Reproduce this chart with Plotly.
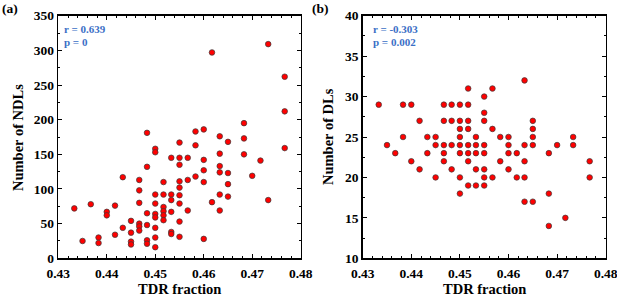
import plotly.graph_objects as go

W, H = 617, 298

# ---- data (x given as TDR fraction) ----
tdr_a = ([0.4333] + [0.4350] + [0.4367] + [0.4383]*2 + [0.4400]*2 + [0.4417]*2 + [0.4433]*2
         + [0.4450]*4 + [0.4467]*6 + [0.4483]*6 + [0.4500]*9 + [0.4517]*6 + [0.4533]*6
         + [0.4550]*9 + [0.4567]*3 + [0.4583]*3 + [0.4600]*5 + [0.4617]*2 + [0.4633]*6
         + [0.4650]*4 + [0.4683]*3 + [0.4700] + [0.4717] + [0.4733]*2 + [0.4767]*3)
ndl = [72,
       25,
       78,
       30, 22,
       67, 62,
       76, 34,
       117, 44,
       54, 37, 24, 20,
       113, 98, 80, 50, 46, 40,
       181, 132, 65, 48, 26, 21,
       158, 153, 92, 79, 64, 59, 44, 30, 16,
       110, 92, 74, 68, 62, 55,
       145, 92, 84, 67, 38, 35,
       167, 145, 135, 111, 102, 91, 79, 53, 31,
       145, 113, 69,
       183, 163, 118,
       186, 142, 127, 110, 28,
       297, 81,
       176, 151, 133, 124, 92, 69,
       168, 123, 107, 89,
       195, 173, 150,
       119,
       141,
       309, 84,
       262, 212, 159]

tdr_b = ([0.4633]
         + [0.4517, 0.4567]
         + [0.4550]
         + [0.4333, 0.4383, 0.4400, 0.4467, 0.4483, 0.4500, 0.4517]
         + [0.4550]
         + [0.4417, 0.4467, 0.4483, 0.4500, 0.4517, 0.4550, 0.4650]
         + [0.4500, 0.4517, 0.4567, 0.4650]
         + [0.4383, 0.4433, 0.4450, 0.4500, 0.4533, 0.4583, 0.4600, 0.4650, 0.4733]
         + [0.4350, 0.4450, 0.4467, 0.4483, 0.4500, 0.4517, 0.4533, 0.4550, 0.4600, 0.4633, 0.4650, 0.4700, 0.4733]
         + [0.4367, 0.4433, 0.4467, 0.4500, 0.4517, 0.4533, 0.4550, 0.4600, 0.4617, 0.4683]
         + [0.4400, 0.4467, 0.4517, 0.4583, 0.4633, 0.4767]
         + [0.4417, 0.4483, 0.4533, 0.4550, 0.4600]
         + [0.4450, 0.4500, 0.4550, 0.4567, 0.4617, 0.4633, 0.4767]
         + [0.4517, 0.4533, 0.4550]
         + [0.4500, 0.4683]
         + [0.4633, 0.4650]
         + [0.4717]
         + [0.4683])
dl = ([32] + [31]*2 + [30] + [29]*7 + [28] + [27]*7 + [26]*4 + [25]*9 + [24]*13
      + [23]*10 + [22]*6 + [21]*5 + [20]*7 + [19]*3 + [18]*2 + [17]*2 + [15] + [14])

x_ticks = [0.43, 0.44, 0.45, 0.46, 0.47, 0.48]
x_tick_text = ["0.43", "0.44", "0.45", "0.46", "0.47", "0.48"]
ya_ticks = [0, 50, 100, 150, 200, 250, 300, 350]
ya_tick_text = [str(v) for v in ya_ticks]
yb_ticks = [10, 15, 20, 25, 30, 35, 40]
yb_tick_text = [str(v) for v in yb_ticks]

FONT = "Liberation Serif"
BLUE = "#3b6fc6"

def px(x):
    return x / W

def py(y):
    return 1 - y / H

fig = go.Figure()
marker = dict(size=5.6, color="#ff0000", line=dict(color="#3a3a3a", width=0.7))
fig.add_trace(go.Scatter(x=tdr_a, y=ndl, mode="markers", marker=marker,
                         xaxis="x", yaxis="y", showlegend=False, cliponaxis=False))
fig.add_trace(go.Scatter(x=tdr_b, y=dl, mode="markers", marker=marker,
                         xaxis="x2", yaxis="y2", showlegend=False, cliponaxis=False))

tickfont = dict(family=FONT, size=13.5, color="black", weight="bold")
common = dict(showgrid=False, zeroline=False, showline=True, linecolor="black",
              linewidth=1.6, mirror="allticks", ticks="inside", ticklen=4,
              tickwidth=1, tickcolor="black", tickfont=tickfont, automargin=False,
              ticklabeloverflow="allow")

ydom = [py(258.3), py(15.7)]
fig.update_layout(
    template="none",
    width=W, height=H,
    margin=dict(l=0, r=0, t=0, b=0, pad=0),
    paper_bgcolor="white", plot_bgcolor="white",
    hovermode=False,
    xaxis=dict(domain=[px(58.3), px(300.7)], range=[0.43, 0.48],
               tickmode="array", tickvals=x_ticks, ticktext=x_tick_text, ticklabelstandoff=2,
               minor=dict(dtick=0.002, tick0=0.43, ticks="inside", ticklen=2, tickcolor="black"),
               anchor="y", **common),
    yaxis=dict(domain=ydom, range=[0, 350],
               tickmode="array", tickvals=ya_ticks, ticktext=ya_tick_text,
               minor=dict(dtick=25, tick0=0, ticks="inside", ticklen=2, tickcolor="black"),
               anchor="x", **common),
    xaxis2=dict(domain=[px(362.7), px(605.7)], range=[0.43, 0.48],
                tickmode="array", tickvals=x_ticks, ticktext=x_tick_text, ticklabelstandoff=2,
                minor=dict(dtick=0.002, tick0=0.43, ticks="inside", ticklen=2, tickcolor="black"),
                anchor="y2", **common),
    yaxis2=dict(domain=ydom, range=[10, 40],
                tickmode="array", tickvals=yb_ticks, ticktext=yb_tick_text,
                minor=dict(dtick=2.5, tick0=10, ticks="inside", ticklen=2, tickcolor="black"),
                anchor="x2", **common),
)

def ann(text, x, y, size=14.5, color="black", bold=True, xanchor="center", angle=0):
    fig.add_annotation(text=text, xref="paper", yref="paper", x=px(x), y=py(y),
                       xanchor=xanchor, yanchor="middle", showarrow=False, textangle=angle,
                       font=dict(family=FONT, size=size, color=color,
                                 weight="bold" if bold else "normal"))

ann("(a)", 10.5, 8.5, size=13.5)
ann("(b)", 320.5, 8.5, size=13.5)
ann("TDR fraction", 180, 289)
ann("TDR fraction", 484, 289)
ann("Number of NDLs", 18, 138, angle=-90)
ann("Number of DLs", 328, 137, angle=-90)
ann("r = 0.639", 61.5, 29, size=11, color=BLUE, xanchor="left")
ann("p = 0", 61.5, 42, size=11, color=BLUE, xanchor="left")
ann("r = -0.303", 370.5, 29, size=11, color=BLUE, xanchor="left")
ann("p = 0.002", 370.5, 42, size=11, color=BLUE, xanchor="left")

fig.write_html("out.html",
               config={"displayModeBar": False, "staticPlot": True},
               post_script="document.body.style.margin='0px';document.body.style.overflow='hidden';")
